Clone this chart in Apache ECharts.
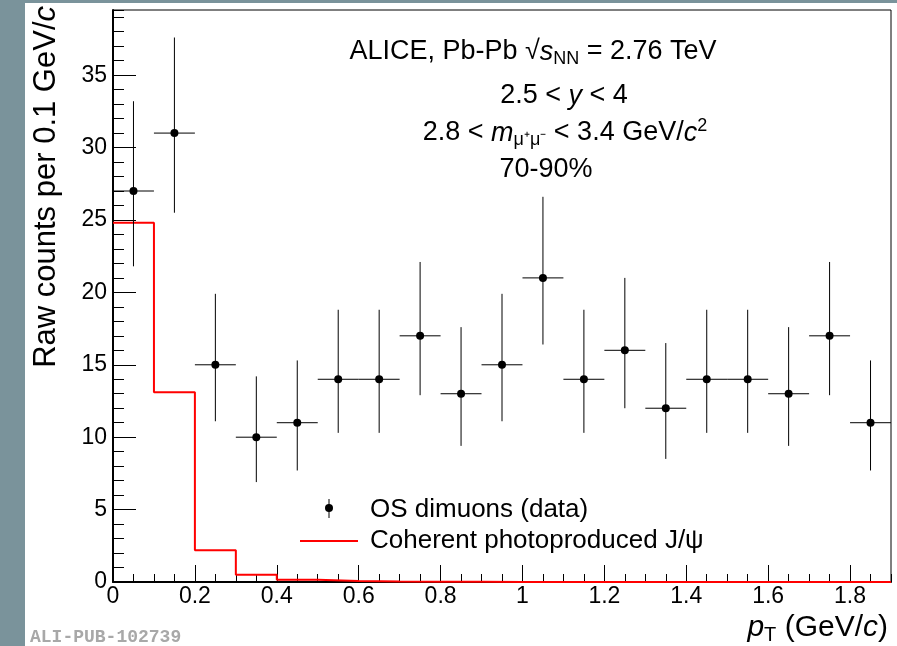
<!DOCTYPE html>
<html>
<head>
<meta charset="utf-8">
<script src="https://cdn.jsdelivr.net/npm/echarts@6/dist/echarts.min.js"></script>
<style>
html, body {margin: 0; padding: 0; background: #fff;}
#main {width: 897px; height: 646px;}
</style>
</head>
<body>
<div id="main"></div>
<script>
// OS dimuon counts, one point per 0.1 GeV/c bin
var ptCenters = [0.05, 0.15, 0.25, 0.35, 0.45, 0.55, 0.65, 0.75, 0.85, 0.95, 1.05, 1.15, 1.25, 1.35, 1.45, 1.55, 1.65, 1.75, 1.85];
var counts  = [27, 31, 15, 10, 11, 14, 14, 17, 13, 15, 21, 14, 16, 12, 14, 14, 13, 17, 11];
var errLow  = [21.8, 25.5, 11.1, 6.9, 7.7, 10.3, 10.3, 12.9, 9.4, 11.1, 16.4, 10.3, 12.0, 8.5, 10.3, 10.3, 9.4, 12.9, 7.7];
var errHigh = [33.2, 37.6, 19.9, 14.2, 15.3, 18.8, 18.8, 22.1, 17.6, 19.9, 26.6, 18.8, 21.0, 16.5, 18.8, 18.8, 17.6, 22.1, 15.3];
var binHalf = 0.05;

// coherent photoproduced J/psi template (left bin edges + contents)
var coherentEdges  = [0, 0.1, 0.2, 0.3, 0.4, 0.5, 0.6, 0.7, 0.8, 0.9, 1.0, 1.1, 1.2, 1.3, 1.4, 1.5, 1.6, 1.7, 1.8];
var coherentValues = [24.8, 13.1, 2.2, 0.5, 0.15, 0.07, 0.03, 0.02, 0.01, 0, 0, 0, 0, 0, 0, 0, 0, 0, 0];

var ptMax = 1.9;
var yMax = 39.5;

var myChart = echarts.init(document.getElementById('main'));

var pointData = [];
for (var i = 0; i < ptCenters.length; i++) {
	pointData.push([ptCenters[i], counts[i], errLow[i], errHigh[i]]);
}
var histData = [];
for (var j = 0; j < coherentEdges.length; j++) {
	histData.push([coherentEdges[j], coherentValues[j]]);
}
histData.push([ptMax, coherentValues[coherentValues.length - 1]]);

function renderPoint(params, api) {
	var x = api.value(0), y = api.value(1);
	var c = api.coord([x, y]);
	var top = api.coord([x, api.value(3)]);
	var bot = api.coord([x, api.value(2)]);
	var l = api.coord([x - binHalf, y]);
	var r = api.coord([x + binHalf, y]);
	return {
		type: 'group',
		children: [
			{type: 'line', shape: {x1: c[0], y1: top[1], x2: c[0], y2: bot[1]}, style: {stroke: '#000', lineWidth: 1}},
			{type: 'line', shape: {x1: l[0], y1: c[1], x2: r[0], y2: c[1]}, style: {stroke: '#000', lineWidth: 1}},
			{type: 'circle', shape: {cx: c[0], cy: c[1], r: 4}, style: {fill: '#000'}}
		]
	};
}

var font = 'Liberation Sans';
var labelStyle = {color: '#000', fontFamily: font, fontSize: 23};
// annotation text (27px) with italic / sub / superscript pieces
var rich = {
	i: {fontFamily: font, fontSize: 27, fontStyle: 'italic', color: '#000', lineHeight: 32},
	sub: {fontFamily: font, fontSize: 18, color: '#000', verticalAlign: 'bottom', lineHeight: 15},
	sup: {fontFamily: font, fontSize: 18, color: '#000', verticalAlign: 'top', lineHeight: 15}
};
var richBig = {
	i: {fontFamily: font, fontSize: 31, fontStyle: 'italic', color: '#000', lineHeight: 36},
	sub: {fontFamily: font, fontSize: 20, color: '#000', verticalAlign: 'bottom', lineHeight: 17}
};
var richX = {
	i: {fontFamily: font, fontSize: 30, fontStyle: 'italic', color: '#000', lineHeight: 35},
	sub: {fontFamily: font, fontSize: 20, color: '#000', verticalAlign: 'bottom', lineHeight: 17}
};

var option = {
	animation: false,
	backgroundColor: '#fff',
	grid: {left: 113, right: 6, top: 10, bottom: 64, show: true, borderColor: '#000', borderWidth: 1, backgroundColor: 'transparent'},
	xAxis: [{
		type: 'value', position: 'bottom', min: 0, max: ptMax, interval: 0.05,
		axisLine: {show: true, lineStyle: {color: '#000', width: 2}},
		axisTick: {show: true, inside: true, length: 8, lineStyle: {color: '#000'}},
		axisLabel: {show: false},
		splitLine: {show: false}
	}, {
		type: 'value', position: 'bottom', min: 0, max: ptMax, interval: 0.2,
		axisLine: {show: false},
		axisTick: {show: true, inside: true, length: 17, lineStyle: {color: '#000'}},
		axisLabel: Object.assign({margin: 3, showMaxLabel: false}, labelStyle),
		splitLine: {show: false}
	}],
	yAxis: [{
		type: 'value', position: 'left', min: 0, max: yMax, interval: 1,
		axisLine: {show: true, lineStyle: {color: '#000', width: 2}},
		axisTick: {show: true, inside: true, length: 11, lineStyle: {color: '#000'}},
		axisLabel: {show: false},
		splitLine: {show: false}
	}, {
		type: 'value', position: 'left', min: 0, max: yMax, interval: 5,
		axisLine: {show: false},
		axisTick: {show: true, inside: true, length: 23, lineStyle: {color: '#000'}},
		axisLabel: Object.assign({margin: 6, showMaxLabel: false}, labelStyle),
		splitLine: {show: false}
	}],
	series: [{
		name: 'Coherent photoproduced J/ψ',
		type: 'line',
		step: 'end',
		xAxisIndex: 0, yAxisIndex: 0,
		data: histData,
		showSymbol: false,
		lineStyle: {color: '#ff0000', width: 2},
		z: 3
	}, {
		name: 'OS dimuons (data)',
		type: 'custom',
		xAxisIndex: 0, yAxisIndex: 0,
		renderItem: renderPoint,
		encode: {x: 0, y: 1},
		data: pointData,
		z: 4
	}],
	graphic: [
		// frame strips
		{type: 'rect', left: 0, top: 0, shape: {width: 25, height: 646}, style: {fill: '#7a939b'}, z: 0},
		{type: 'rect', left: 0, top: 0, shape: {width: 897, height: 3}, style: {fill: '#7a939b'}, z: 0},
		// axis titles
		{type: 'text', x: 46, y: 6, rotation: Math.PI / 2,
			style: {text: 'Raw counts per 0.1 GeV/{i|c}', rich: richBig, font: '31px ' + font, fill: '#000', textAlign: 'right', textVerticalAlign: 'middle'}},
		{type: 'text', x: 888, y: 628,
			style: {text: '{i|p}{sub|T} (GeV/{i|c})', rich: richX, font: '30px ' + font, fill: '#000', textAlign: 'right', textVerticalAlign: 'middle'}},
		// annotation
		{type: 'text', x: 533, y: 52,
			style: {text: 'ALICE, Pb-Pb √{i|s}{sub|NN} = 2.76 TeV', rich: rich, font: '27px ' + font, fill: '#000', textAlign: 'center', textVerticalAlign: 'middle'}},
		{type: 'text', x: 564, y: 96,
			style: {text: '2.5 < {i|y} < 4', rich: rich, font: '27px ' + font, fill: '#000', textAlign: 'center', textVerticalAlign: 'middle'}},
		{type: 'text', x: 565, y: 133,
			style: {text: '2.8 < {i|m}{sub|μ⁺μ⁻} < 3.4 GeV/{i|c}{sup|2}', rich: rich, font: '27px ' + font, fill: '#000', textAlign: 'center', textVerticalAlign: 'middle'}},
		{type: 'text', x: 546, y: 170,
			style: {text: '70-90%', font: '27px ' + font, fill: '#000', textAlign: 'center', textVerticalAlign: 'middle'}},
		// legend
		{type: 'line', shape: {x1: 329, y1: 499, x2: 329, y2: 518}, style: {stroke: '#000', lineWidth: 1}},
		{type: 'circle', shape: {cx: 329, cy: 508, r: 4}, style: {fill: '#000'}},
		{type: 'text', x: 370, y: 510,
			style: {text: 'OS dimuons (data)', font: '26px ' + font, fill: '#000', textVerticalAlign: 'middle'}},
		{type: 'line', shape: {x1: 300, y1: 541, x2: 358, y2: 541}, style: {stroke: '#ff0000', lineWidth: 2}},
		{type: 'text', x: 370, y: 541,
			style: {text: 'Coherent photoproduced J/ψ', font: '26px ' + font, fill: '#000', textVerticalAlign: 'middle'}},
		// watermark
		{type: 'text', x: 30, y: 637,
			style: {text: 'ALI-PUB-102739', font: 'bold 18px "Liberation Mono"', fill: '#a8a8a8', textVerticalAlign: 'middle'}}
	]
};
myChart.setOption(option);
</script>
</body>
</html>
